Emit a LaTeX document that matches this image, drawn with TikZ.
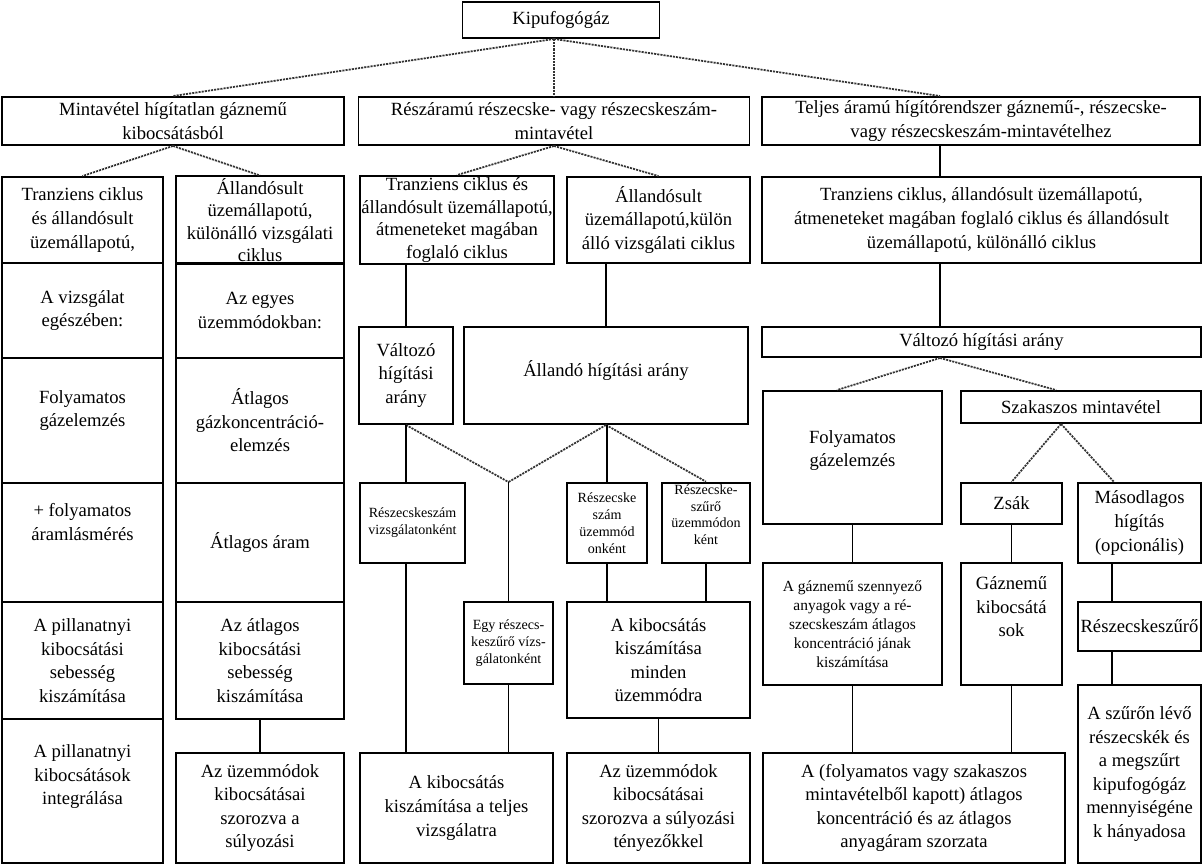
\documentclass[tikz,border=0pt]{standalone}
\usepackage{fontspec}
\setmainfont{Liberation Serif}
\usetikzlibrary{calc}

\begin{document}
\begin{tikzpicture}[
  x=0.02cm, y=-0.02cm,
  font=\fontsize{10.6}{13.4}\selectfont,
  cell/.style 2 args={rectangle, draw, line width=1.1pt, align=center,
              inner sep=1pt, minimum width=#1*0.02cm,
              minimum height=#2*0.02cm},
  small/.style={font=\fontsize{8}{9.6}\selectfont},
  link/.style={line width=1.1pt},
  dots/.style={line width=1pt, black!80, dash pattern=on 1.2pt off 0.6pt}
]
\useasboundingbox (0,0) rectangle (1203,865);

% ── Top and first level ───────────────────────────────────────
\node[cell={197}{36}] (kip) at (561,20) {Kipufogógáz};
\node[cell={342}{48}] (higit) at (173,121)
  {Mintavétel hígítatlan gáznemű\\kibocsátásból};
\node[cell={391}{48}] (resz) at (554,121)
  {Részáramú részecske- vagy részecskeszám-\\mintavétel};
\node[cell={438}{48}] (telj) at (981,121)
  {Teljes áramú hígítórendszer gáznemű-, részecske-\\vagy részecskeszám-mintavételhez};

% ── Second level: test cycles ─────────────────────────────────
\node[cell={161}{86}] (ciklA) at (82.5,220) {Tranziens ciklus\\és állandósult\\üzemállapotú,};
\node[cell={168}{86}, font=\fontsize{10.6}{12.8}\selectfont] (ciklB) at (260,220)
  {Állandósult\\üzemállapotú,\\különálló vizsgálati\\ciklus};
\node[cell={194}{86}, font=\fontsize{10.6}{12.8}\selectfont] (ciklC) at (457,220)
  {Tranziens ciklus és\\állandósult üzemállapotú,\\átmeneteket magában\\foglaló ciklus};
\node[cell={183}{86}] (ciklD) at (658.5,220)
  {Állandósult\\üzemállapotú,külön\\álló vizsgálati ciklus};
\node[cell={439}{86}] (ciklE) at (981.5,220)
  {Tranziens ciklus, állandósult üzemállapotú,\\átmeneteket magában foglaló ciklus és állandósult\\üzemállapotú, különálló ciklus};

% ── Left: raw exhaust columns ─────────────────────────────────
\node[cell={161}{95}]  (egesz)  at (82.5,310.5) {A vizsgálat\\egészében:};
\node[cell={161}{125}] (folyA)  at (82.5,420.5) {Folyamatos\\gázelemzés\\[0pt]};
\node[cell={161}{119}] (aram)   at (82.5,542.5) {+ folyamatos\\áramlásmérés\\[10pt]};
\node[cell={161}{117}] (pill)   at (82.5,660.5) {A pillanatnyi\\kibocsátási\\sebesség\\kiszámítása};
\node[cell={161}{144}] (integr) at (82.5,791)   {A pillanatnyi\\kibocsátások\\integrálása\\[5pt]};

\node[cell={168}{95}]  (egyes)  at (260,310.5) {Az egyes\\üzemmódokban:};
\node[cell={168}{125}] (atlkonc) at (260,420.5) {Átlagos\\gázkoncentráció-\\elemzés};
\node[cell={168}{119}] (atlaram) at (260,542.5) {Átlagos áram};
\node[cell={168}{117}] (atlseb) at (260,660.5) {Az átlagos\\kibocsátási\\sebesség\\kiszámítása};
\node[cell={168}{110}] (szorA)  at (260,808)   {Az üzemmódok\\kibocsátásai\\szorozva a\\súlyozási};

% ── Middle: partial flow ──────────────────────────────────────
\node[cell={94}{97}]  (valt) at (406,375.5) {Változó\\hígítási\\arány};
\node[cell={284}{97}] (alld) at (606,375.5) {Állandó hígítási arány\\[-5pt]};
\node[cell={105}{80}, small] (rszvizs) at (412.5,523) {Részecskeszám\\vizsgálatonként};
\node[cell={80}{80}, small]  (rszuzem) at (607,523) {Részecske\\szám\\üzemmód\\onként};
\node[cell={88}{80}, small]  (rszuro) at (706,523) {Részecske-\\szűrő\\üzemmódon\\ként\\[0pt]};
\node[cell={89}{82}, small]  (egyszur) at (508.5,643) {Egy részecs-\\keszűrő vízs-\\gálatonként};
\node[cell={183}{116}] (kibmind) at (658.5,660) {A kibocsátás\\kiszámítása\\minden\\üzemmódra};
\node[cell={193}{110}] (kibtelj) at (456.5,808) {A kibocsátás\\kiszámítása a teljes\\vizsgálatra};
\node[cell={183}{110}] (szorB)   at (658.5,808) {Az üzemmódok\\kibocsátásai\\szorozva a súlyozási\\tényezőkkel};

% ── Right: full flow ──────────────────────────────────────────
\node[cell={439}{30}]  (valtR) at (981.5,342) {Változó hígítási arány};
\node[cell={179}{133}] (folyR) at (852.5,457.5) {Folyamatos\\gázelemzés\\[-3pt]};
\node[cell={240}{32}]  (szak)  at (1081,407) {Szakaszos mintavétel};
\node[cell={101}{41}]  (zsak)  at (1011.5,503.5) {Zsák};
\node[cell={123}{80}]  (masod) at (1139.5,523) {Másodlagos\\hígítás\\(opcionális)};
\node[cell={179}{122}, font=\fontsize{8.8}{10.8}\selectfont] (szenny) at (852.5,624)
  {A gáznemű szennyező\\anyagok vagy a ré-\\szecskeszám átlagos\\koncentráció jának\\kiszámítása};
\node[cell={101}{122}] (gazkib) at (1011.5,624) {Gáznemű\\kibocsátá\\sok\\[6pt]};
\node[cell={123}{49}]  (szuro)  at (1139.5,626.5) {Részecskeszűrő};
\node[cell={123}{178}] (hanyad) at (1139.5,774)
  {A szűrőn lévő\\részecskék és\\a megszűrt\\kipufogógáz\\mennyiségéne\\k hányadosa};
\node[cell={302}{110}] (szorzat) at (914,808)
  {A (folyamatos vagy szakaszos\\mintavételből kapott) átlagos\\koncentráció és az átlagos\\anyagáram szorzata};

% ── Helper points ─────────────────────────────────────────────
\coordinate (kfoot) at (resz.north |- kip.south);
\coordinate (ctop)  at ($(telj.north west)+(179,0)$);
\coordinate (egytop) at (egyszur.north |- rszvizs.north);
\coordinate (szfoot) at ($(szak.south west)+(101,0)$);
\coordinate (mhx)   at ($(masod.south west)+(35,0)$);

% ── Dotted branches ───────────────────────────────────────────
\draw[dots] (kfoot) -- (higit.north);
\draw[dots] (kfoot) -- (resz.north);
\draw[dots] (kfoot) -- (ctop);
\draw[dots] (higit.south) -- (ciklA.north);
\draw[dots] (higit.south) -- (ciklB.north);
\draw[dots] (resz.south) -- (ciklC.north);
\draw[dots] (resz.south) -- (ciklD.north);
\draw[dots] (valt.south) -- (egytop);
\draw[dots] (alld.south) -- (egytop);
\draw[dots] (alld.south) -- (rszuro.north);
\draw[dots] (ctop |- valtR.south) -- ($(folyR.north west)+(75,0)$);
\draw[dots] (ctop |- valtR.south) -- ($(szak.north west)+(96,0)$);
\draw[dots] (szfoot) -- (zsak.north);
\draw[dots] (szfoot) -- ($(masod.north west)+(37,0)$);

% ── Solid links ───────────────────────────────────────────────
\draw[link] (ctop |- telj.south) -- (ctop |- ciklE.north);
\draw[link] (ctop |- ciklE.south) -- (ctop |- valtR.north);
\draw[link] (atlseb.south) -- (szorA.north);
\draw[link] (valt.north |- ciklC.south) -- (valt.north);
\draw[link] (alld.north |- ciklD.south) -- (alld.north);
\draw[link] (valt.south) -- (valt.south |- rszvizs.north);
\draw[link] (valt.south |- rszvizs.south) -- (valt.south |- kibtelj.north);
\draw[link] (egytop) -- (egyszur.north);
\draw[link] (egyszur.south) -- (egyszur.south |- kibtelj.north);
\draw[link] (rszuzem.north |- alld.south) -- (rszuzem.north);
\draw[link] (rszuzem.south) -- (rszuzem.south |- kibmind.north);
\draw[link] (rszuro.south) -- (rszuro.south |- kibmind.north);
\draw[link] (kibmind.south) -- (kibmind.south |- szorB.north);
\draw[link] (folyR.south) -- (szenny.north);
\draw[link] (szenny.south) -- (szenny.south |- szorzat.north);
\draw[link] (zsak.south) -- (gazkib.north);
\draw[link] (gazkib.south) -- (gazkib.south |- szorzat.north);
\draw[link] (mhx) -- (mhx |- szuro.north);
\draw[link] (mhx |- szuro.south) -- (mhx |- hanyad.north);

\end{tikzpicture}
\end{document}
